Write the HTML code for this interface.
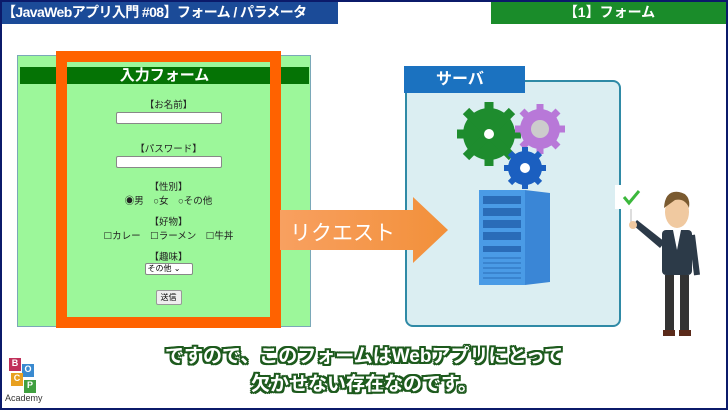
<!DOCTYPE html>
<html><head><meta charset="utf-8"><style>
*{margin:0;padding:0;box-sizing:border-box}
body{width:728px;height:410px;position:relative;background:#fff;overflow:hidden;font-family:"Liberation Sans","Noto Sans CJK JP",sans-serif}
.a{position:absolute}
.frame{left:0;top:0;width:728px;height:410px;border:2px solid #0b1a6a;z-index:50;pointer-events:none}
.f{font-size:9.5px;color:#222;text-align:center;width:100%}
.inp{background:#fff;border:1px solid #888;border-radius:2px;height:12px;width:106px}
</style></head><body>
<div class="a" style="left:0;top:0;width:338px;height:24px;background:#1b4b98;color:#fff;font-size:14px;font-weight:bold;line-height:24px;padding-left:2px;white-space:nowrap;letter-spacing:-0.6px">【JavaWebアプリ入門 #08】フォーム / パラメータ</div>
<div class="a" style="left:491px;top:0;width:237px;height:24px;background:#1a8c2a;color:#fff;font-size:14px;font-weight:bold;line-height:24px;text-align:center">【1】フォーム</div>

<div class="a" style="left:17px;top:55px;width:294px;height:272px;background:#9cf79a;border:1px solid #7aa8b8"></div>
<div class="a" style="left:20px;top:67px;width:289px;height:17px;background:#057305;color:#fff;font-size:15px;font-weight:bold;text-align:center;line-height:17px">入力フォーム</div>
<div class="a" style="left:56px;top:51px;width:225px;height:277px;border:11px solid #ff6200"></div>
<div class="a" style="left:56px;top:97px;width:225px">
<div class="f">【お名前】</div>
<div class="inp" style="margin:1px auto 0"></div>
<div class="f" style="margin-top:17px">【パスワード】</div>
<div class="inp" style="margin:1px auto 0"></div>
<div class="f" style="margin-top:11px">【性別】</div>
<div class="f">◉男　○女　○その他</div>
<div class="f" style="margin-top:7px">【好物】</div>
<div class="f">☐カレー　☐ラーメン　☐牛丼</div>
<div class="f" style="margin-top:7px">【趣味】</div>
<div style="margin:0 auto;width:48px;height:12px;background:#fff;border:1px solid #888;border-radius:2px;font-size:8px;line-height:10px;padding-left:2px">その他 ⌄</div>
<div style="margin:15px auto 0;width:26px;height:15px;background:#eee;border:1px solid #999;border-radius:2px;font-size:8px;line-height:13px;text-align:center">送信</div>
</div>

<div class="a" style="left:405px;top:80px;width:216px;height:247px;background:#dbeef2;border:2px solid #2f8aa6;border-radius:8px"></div>
<div class="a" style="left:404px;top:66px;width:121px;height:27px;background:#1b72c0;color:#fff;font-size:16px;font-weight:bold;line-height:27px;padding-left:32px">サーバ</div>

<svg class="a" style="left:280px;top:195px" width="170" height="70"><defs><linearGradient id="g" x1="0" x2="1"><stop offset="0" stop-color="#f8a060"/><stop offset="1" stop-color="#f2903a"/></linearGradient></defs><polygon points="0,15 133,15 133,2 168,35 133,68 133,55 0,55" fill="url(#g)"/><text x="10" y="45" font-size="21" fill="#fff" font-family="Liberation Sans,Noto Sans CJK JP,sans-serif">リクエスト</text></svg>

<svg class="a" style="left:452px;top:100px" width="125" height="190">
<g fill="#1e8c2e"><circle cx="37" cy="34" r="26"/><g stroke="#1e8c2e" stroke-width="9"><line x1="37" y1="2" x2="37" y2="66"/><line x1="5" y1="34" x2="69" y2="34"/><line x1="14" y1="11" x2="60" y2="57"/><line x1="60" y1="11" x2="14" y2="57"/></g></g><circle cx="37" cy="34" r="5" fill="#fff"/>
<g fill="#b878d8"><circle cx="88" cy="29" r="20"/><g stroke="#b878d8" stroke-width="7"><line x1="88" y1="4" x2="88" y2="54"/><line x1="63" y1="29" x2="113" y2="29"/><line x1="70" y1="11" x2="106" y2="47"/><line x1="106" y1="11" x2="70" y2="47"/></g></g><circle cx="88" cy="29" r="9" fill="#ccc"/>
<g fill="#1b5fc0"><circle cx="73" cy="68" r="17"/><g stroke="#1b5fc0" stroke-width="6"><line x1="73" y1="47" x2="73" y2="89"/><line x1="52" y1="68" x2="94" y2="68"/><line x1="58" y1="53" x2="88" y2="83"/><line x1="88" y1="53" x2="58" y2="83"/></g></g><circle cx="73" cy="68" r="5" fill="#fff"/>
<polygon points="27,90 73,90 98,93 98,182 73,185 27,185" fill="#3a86d6"/><rect x="27" y="90" width="46" height="95" fill="#4a9be6"/>
<g fill="#2a6cb8"><rect x="31" y="96" width="38" height="8"/><rect x="31" y="108" width="38" height="8"/><rect x="31" y="120" width="38" height="8"/><rect x="31" y="132" width="38" height="8"/><rect x="31" y="146" width="38" height="6"/></g>
<g stroke="#2a6cb8" stroke-width="1"><line x1="31" y1="158" x2="69" y2="158"/><line x1="31" y1="163" x2="69" y2="163"/><line x1="31" y1="168" x2="69" y2="168"/><line x1="31" y1="173" x2="69" y2="173"/><line x1="31" y1="178" x2="69" y2="178"/></g>
</svg>

<svg class="a" style="left:615px;top:180px" width="110" height="165">
<rect x="0" y="5" width="32" height="24" fill="#fff"/><path d="M9 17 l5 6 l10 -12" stroke="#3cb83c" stroke-width="3" fill="none"/>
<line x1="16" y1="29" x2="16" y2="45" stroke="#ddd" stroke-width="2"/>
<path d="M18 45 L45 68 L50 62 L22 40Z" fill="#2c3a48"/>
<circle cx="18" cy="45" r="4" fill="#f0c9a0"/>
<rect x="47" y="50" width="30" height="45" rx="4" fill="#2c3a48"/>
<polygon points="58,50 66,50 62,70" fill="#fff"/>
<rect x="50" y="95" width="9" height="55" fill="#333"/><rect x="65" y="95" width="9" height="55" fill="#333"/>
<rect x="48" y="150" width="12" height="6" fill="#5a2a1a"/><rect x="64" y="150" width="12" height="6" fill="#5a2a1a"/>
<ellipse cx="62" cy="32" rx="12" ry="16" fill="#f0c9a0"/><path d="M49 28 Q50 10 64 12 Q76 14 74 28 Q70 18 60 20 Z" fill="#7a5a30"/>
<line x1="77" y1="55" x2="82" y2="95" stroke="#2c3a48" stroke-width="6"/>
</svg>

<div class="a" style="left:100px;top:343px;width:528px;text-align:center;color:#fff;font-size:19px;font-weight:bold;line-height:28px;text-shadow:-2px -2px 0 #1d5a1d,2px -2px 0 #1d5a1d,-2px 2px 0 #1d5a1d,2px 2px 0 #1d5a1d,0 2px 0 #1d5a1d,0 -2px 0 #1d5a1d,2px 0 0 #1d5a1d,-2px 0 0 #1d5a1d">ですので、このフォームはWebアプリにとって<br>欠かせない存在なのです。</div>

<div class="a" style="left:9px;top:358px;width:12px;height:13px;background:#c0305a;color:#fff;font-size:9px;text-align:center;font-weight:bold">B</div>
<div class="a" style="left:22px;top:364px;width:12px;height:13px;background:#3a8ad0;color:#fff;font-size:9px;text-align:center;font-weight:bold">O</div>
<div class="a" style="left:11px;top:373px;width:12px;height:13px;background:#e8a020;color:#fff;font-size:9px;text-align:center;font-weight:bold">C</div>
<div class="a" style="left:24px;top:380px;width:12px;height:13px;background:#40a040;color:#fff;font-size:9px;text-align:center;font-weight:bold">P</div>
<div class="a" style="left:5px;top:393px;font-size:9px;color:#333">Academy</div>
<div class="a frame"></div>
</body></html>
